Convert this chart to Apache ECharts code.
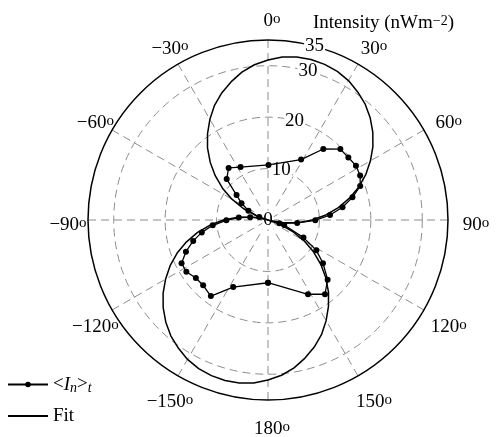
<!DOCTYPE html>
<html>
<head>
<meta charset="utf-8">
<script src="https://cdn.jsdelivr.net/npm/echarts@6/dist/echarts.min.js"></script>
<style>
  html, body { margin: 0; padding: 0; background: #fff; }
  #chart { width: 497px; height: 437px; }
</style>
</head>
<body>
<div id="chart"></div>
<script>
// measured <I_n>_t, in sweep order (angle in degrees, intensity in nW m^-2)
const dataAngles = [-180, -152.6, -143.1, -135.2, -128.8, -122.4, -116.6, -111.1, -105.6, -100.6,
  -95.5, -90.4, -85.1, -81.5, -71.3, -64.7, -57.6, -51.6, -45.3, -37.1, -27.4, 0.5, 28.7, 37.9,
  45.6, 52.1, 58.3, 64.2, 69.8, 75.0, 80.3, 85.4, 90.4, 95.8, 106.3, 107.4, 116.4, 122.1, 128.2,
  135.0, 142.5, 151.7, 180]
const dataValues = [12.2, 14.7, 18.5, 17.9, 18.0, 18.8, 18.8, 17.1, 15.1, 13.1,
  10.8, 8.1, 5.7, 3.5, 1.8, 4.2, 6.1, 7.8, 11.3, 12.7, 11.6, 10.7, 13.4, 17.5,
  19.7, 19.8, 20.1, 19.9, 19.1, 17.0, 14.7, 12.1, 9.2, 5.7, 2.3, 3.3, 7.7, 11.1, 13.6,
  16.4, 18.2, 16.4, 12.2]

// fit curve, read along each lobe (both lobes have the same profile)
const fitUpperAngles = [-74.5, -70, -65, -60, -55, -50, -45, -40, -35, -30, -25, -20, -15, -10, -5,
  0, 5, 10, 15, 20, 25, 30, 35, 40, 45, 50, 55, 60, 65, 70, 75, 80, 85, 90, 95, 100, 105, 105.5]
const fitLowerAngles = [105.5, 110, 115, 120, 125, 130, 135, 140, 145, 150, 155, 160, 165, 170, 175,
  180, -175, -170, -165, -160, -155, -150, -145, -140, -135, -130, -125, -120, -115, -110, -105,
  -100, -95, -90, -85, -80, -75, -74.5]
const fitValues = [0, 2.5, 5.3, 8.1, 10.8, 13.4, 15.9, 18.3, 20.5, 22.6, 24.6, 26.3, 27.8, 29.2, 30.3,
  31.1, 31.8, 32.2, 32.3, 32.2, 31.9, 31.3, 30.4, 29.4, 28.1, 26.6, 24.9, 23.0, 21.0, 18.8, 16.4,
  13.9, 11.3, 8.6, 5.9, 3.1, 0.3, 0]

const radiusMax = 35
const radiusStep = 10
const angleStep = 30

const font = 'Liberation Serif'
const center = [268, 220]
const outerR = 180
// the angle labels sit centred on a ring slightly off the plot centre
const labelCenter = [272, 215.5]

const pairs = (r, a) => r.map((v, i) => [v, a[i]])

const chart = echarts.init(document.getElementById('chart'))

const option = {
  animation: false,
  title: {
    text: 'Intensity (nWm{sup|\u22122})',
    left: 308,
    top: 9,
    textStyle: {
      fontFamily: font,
      fontSize: 19,
      fontWeight: 'normal',
      color: '#000',
      rich: {
        sup: { fontFamily: font, fontSize: 14, verticalAlign: 'top', lineHeight: 12, color: '#000' }
      }
    }
  },
  legend: {
    orient: 'vertical',
    left: 2,
    top: 370,
    itemWidth: 40,
    itemHeight: 7,
    itemGap: 11,
    data: ['data', { name: 'Fit', itemStyle: { opacity: 0 } }],
    formatter: name => name === 'data' ? '{a|<}{i|I}{s|n}{a|>}{s|t}' : '{a|Fit}',
    textStyle: {
      fontFamily: font,
      fontSize: 19,
      color: '#000',
      rich: {
        a: { fontFamily: font, fontSize: 19, lineHeight: 22, color: '#000' },
        i: { fontFamily: font, fontSize: 19, fontStyle: 'italic', lineHeight: 22, color: '#000' },
        s: { fontFamily: font, fontSize: 14, fontStyle: 'italic', verticalAlign: 'bottom', lineHeight: 12, color: '#000' }
      }
    }
  },
  polar: [
    { center: center, radius: outerR },
    { center: center, radius: outerR },
    { center: labelCenter, radius: outerR }
  ],
  angleAxis: [
    {
      polarIndex: 0,
      type: 'value',
      min: -180,
      max: 180,
      interval: angleStep,
      startAngle: 270,
      clockwise: true,
      axisLine: { show: true, lineStyle: { color: '#000', width: 1.5 } },
      axisTick: { show: false },
      axisLabel: { show: false },
      splitLine: { show: true, lineStyle: { color: '#8c8c8c', width: 1, type: [8, 5] } }
    },
    {
      polarIndex: 1,
      type: 'value',
      min: 0,
      max: 360,
      startAngle: 75,
      show: false
    },
    {
      polarIndex: 2,
      type: 'value',
      min: -180,
      max: 180,
      interval: angleStep,
      startAngle: 270,
      clockwise: true,
      axisLine: { show: false },
      axisTick: { show: false },
      splitLine: { show: false },
      axisLabel: {
        margin: 24,
        width: 0,
        height: 0,
        formatter: v => {
          const n = Math.abs(v) === 180 ? 180 : v
          const s = n < 0 ? '\u2212' + (-n) : '' + n
          return '{n|' + s + '}{o|o}'
        },
        rich: {
          n: { fontFamily: font, fontSize: 19, lineHeight: 20, align: 'center', color: '#000' },
          o: { fontFamily: font, fontSize: 15, verticalAlign: 'top', lineHeight: 12, align: 'center', color: '#000' }
        }
      }
    }
  ],
  radiusAxis: [
    {
      polarIndex: 0,
      min: 0,
      max: radiusMax,
      interval: radiusStep,
      axisLine: { show: false },
      axisTick: { show: false },
      axisLabel: { show: false },
      splitLine: {
        show: true,
        lineStyle: { color: ['#8c8c8c', '#8c8c8c', '#8c8c8c', '#8c8c8c', 'rgba(0,0,0,0)'], width: 1, type: [8, 5] }
      }
    },
    {
      polarIndex: 1,
      min: 0,
      max: radiusMax,
      interval: radiusStep,
      z: 1,
      axisLine: { show: false },
      axisTick: { show: false },
      splitLine: { show: false },
      axisLabel: {
        margin: 0,
        align: 'center',
        verticalAlign: 'middle',
        backgroundColor: '#fff',
        padding: [0, 1],
        fontFamily: font,
        fontSize: 19,
        color: '#000'
      }
    },
    {
      polarIndex: 2,
      min: 0,
      max: radiusMax,
      show: false
    }
  ],
  series: [
    {
      name: 'data',
      type: 'line',
      coordinateSystem: 'polar',
      polarIndex: 0,
      z: 4,
      symbol: 'circle',
      symbolSize: 6,
      itemStyle: { color: '#000' },
      lineStyle: { color: '#000', width: 1.3 },
      data: pairs(dataValues, dataAngles)
    },
    {
      name: 'Fit',
      type: 'line',
      coordinateSystem: 'polar',
      polarIndex: 0,
      z: 3,
      symbol: 'none',
      itemStyle: { color: '#000' },
      lineStyle: { color: '#000', width: 1.5 },
      data: pairs(fitValues, fitUpperAngles)
    },
    {
      name: 'Fit',
      type: 'line',
      coordinateSystem: 'polar',
      polarIndex: 0,
      z: 3,
      symbol: 'none',
      itemStyle: { color: '#000' },
      lineStyle: { color: '#000', width: 1.5 },
      data: pairs(fitValues, fitLowerAngles)
    }
  ]
}

chart.setOption(option)
</script>
</body>
</html>
